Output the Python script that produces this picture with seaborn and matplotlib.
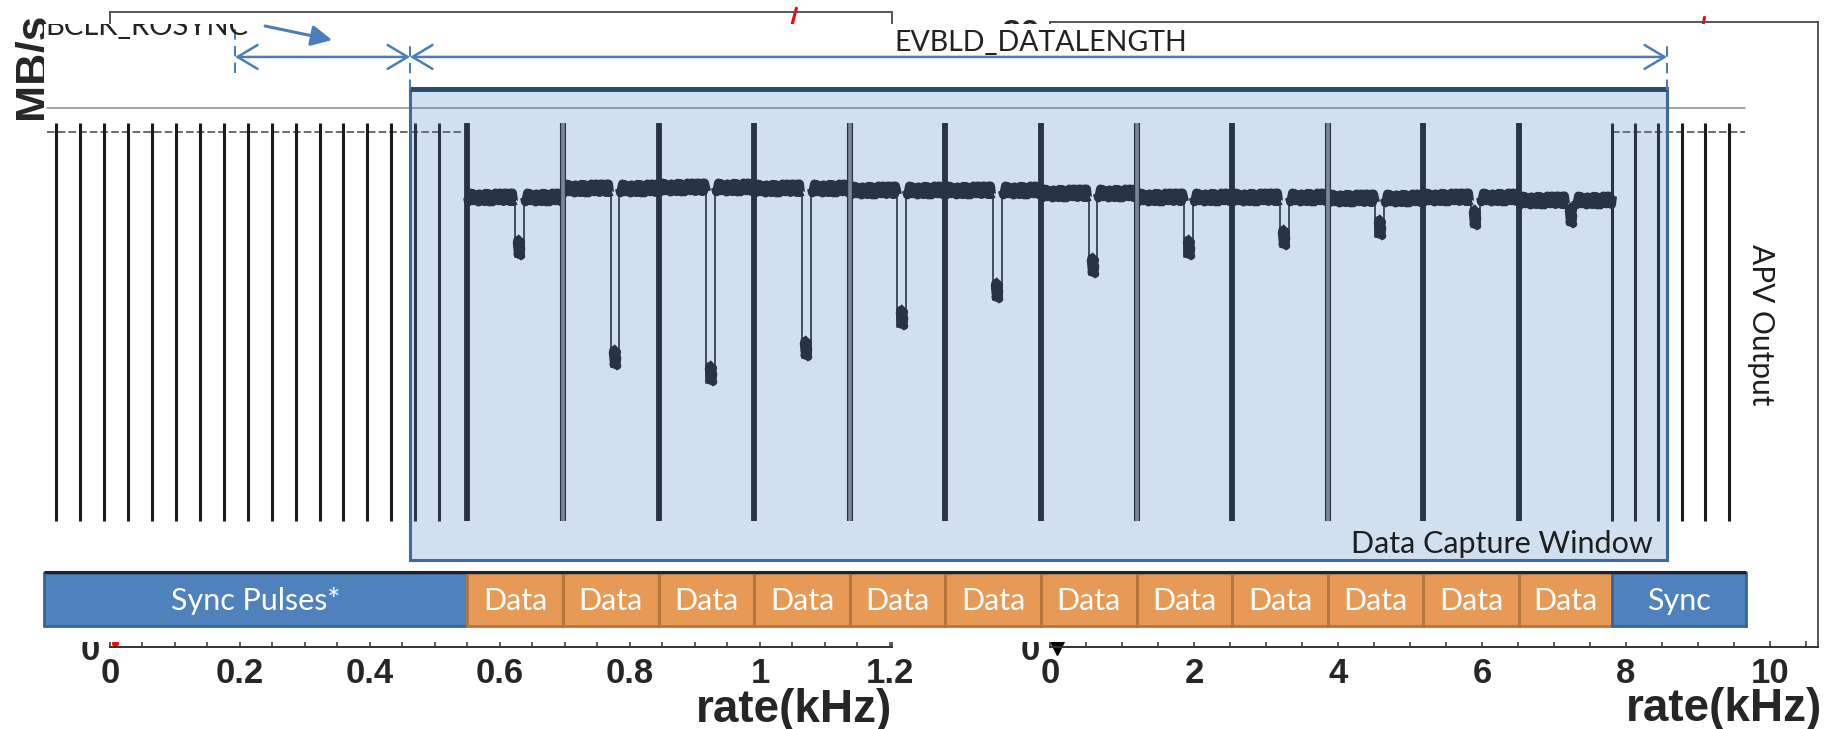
import numpy as np
import pandas as pd
import matplotlib
matplotlib.use('Agg')
import matplotlib.pyplot as plt
import seaborn as sns
from matplotlib.patches import Rectangle
from matplotlib.transforms import Bbox, TransformedBbox
import matplotlib.patheffects as pe
from matplotlib.ticker import MultipleLocator

# ----------------------------- data -----------------------------
left_rate_ticks = [0, 0.2, 0.4, 0.6, 0.8, 1.0, 1.2]
left_rate_labels = ['0', '0.2', '0.4', '0.6', '0.8', '1', '1.2']
right_rate_ticks = [0, 2, 4, 6, 8, 10]
right_rate_labels = ['0', '2', '4', '6', '8', '10']
left_red_rate = [1.044, 1.056]
left_red_mbs = [0.96, 1.006]
right_red_rate = [9.05, 9.09]
right_red_mbs = [19.9, 20.45]

# APV output trace (time in clock ticks, amplitude normalised)
sync_pre = [0.0, 0.99, 1.98, 2.97, 3.96, 4.95, 5.94, 6.93, 7.92, 8.91,
            9.9, 10.89, 11.88, 12.87, 13.86, 14.85, 15.84]
frame_start = [17.0, 20.95, 24.9, 28.85, 32.8, 36.75, 40.7, 44.65,
               48.6, 52.55, 56.5, 60.45]
frame_end = 64.3
sync_post = [64.3, 65.25, 66.2, 67.2, 68.15, 69.15]
frame_level = [0.815, 0.837, 0.840, 0.837, 0.832, 0.832, 0.824, 0.815,
               0.815, 0.812, 0.815, 0.807]
dip_bottom = [0.664, 0.388, 0.346, 0.409, 0.488, 0.555, 0.618, 0.664,
              0.689, 0.714, 0.739, 0.744]
header_style = ['dark', 'light', 'dark', 'dark', 'light', 'dark', 'dark',
                'light', 'dark', 'light', 'dark', 'dark']
baseline_level = 0.977
pulse_top = 1.0
pulse_bottom = 0.0
trace_start, trace_stop = -0.37, 69.79
segments = ['Sync Pulses*'] + ['Data'] * 12 + ['Sync']
bar_edges = [-0.5] + frame_start + [frame_end, 69.83]
syncwin = (7.40, 14.63)          # BCLK_ROSYNC span
capture = (14.63, 66.57)         # EVBLD_DATALENGTH span / capture window

# --------------------------- styling ----------------------------
sns.set_theme(style='ticks')
plt.rcParams['font.family'] = ['Liberation Sans', 'DejaVu Sans']
DIAG_FONT = ['Lato', 'DejaVu Sans']
INK = '#1b1b1b'
BLUE = '#4a7ebb'

W, H, DPI = 1829, 729, 100
fig = plt.figure(figsize=(W / DPI, H / DPI), dpi=DPI)
fig.patch.set_facecolor('white')


def px_rect(x0, y0, x1, y1):
    return [x0 / W, 1 - y1 / H, (x1 - x0) / W, (y1 - y0) / H]


# ------------------------ background plots ----------------------
tick_font = dict(fontsize=25, fontweight='bold')

ax1 = fig.add_axes(px_rect(110, 12, 892, 647))
ax1.set_xlim(0, 1.2031)
ax1.set_ylim(0, 1)
ax2 = fig.add_axes(px_rect(1050, 22, 1818, 647))
ax2.set_xlim(0, 10.667)
ax2.set_ylim(0, 20.3)

for ax, ticks, labels, minor in [(ax1, left_rate_ticks, left_rate_labels, 0.05),
                                 (ax2, right_rate_ticks, right_rate_labels, 0.5)]:
    ax.set_facecolor('white')
    ax.set_xticks(ticks)
    ax.set_xticklabels(labels, **tick_font)
    ax.xaxis.set_minor_locator(MultipleLocator(minor))
    ax.tick_params(axis='both', which='both', direction='in', length=4,
                   width=1.1, color='#333333', pad=7)
    for sp in ax.spines.values():
        sp.set_visible(True)
        sp.set_color('#555555')
        sp.set_linewidth(1.4)
    ax.spines['bottom'].set_color('#333333')

ax1.set_yticks([0])
ax1.set_yticklabels(['0'], **tick_font)
ax2.set_yticks([0, 20])
ax2.set_yticklabels(['0', '20'], **tick_font)

ax1.set_ylabel('MB/s', fontsize=32, fontweight='bold')
ax1.yaxis.set_label_coords(-0.071, 0.916)
ax1.set_xlabel('rate(kHz)', fontsize=33, fontweight='bold', ha='right')
ax1.xaxis.set_label_coords(1.0, -0.064)
ax2.set_xlabel('rate(kHz)', fontsize=33, fontweight='bold', ha='right')
ax2.xaxis.set_label_coords(1.0052, -0.064)

sns.lineplot(x=left_red_rate, y=left_red_mbs, ax=ax1, color='red', lw=2.2,
             clip_on=False)
sns.lineplot(x=right_red_rate, y=right_red_mbs, ax=ax2, color='red', lw=2.2,
             clip_on=False)
ax1.plot([0.008], [0.006], marker='o', color='red', ms=4, clip_on=False)
ax2.plot([0.1], [0], marker='v', color='black', ms=12, clip_on=False)

# --------------------------- diagram ----------------------------
axd = fig.add_axes([0, 0, 1, 1])
axd.set_xlim(-56 / 24.2, (W - 56) / 24.2)
axd.set_ylim((521 - H) / 398, 521 / 398)
axd.axis('off')
axd.patch.set_alpha(0)

# white diagram background
axd.add_patch(Rectangle((-0.5, -0.304), 70.42, 1.553, fc='white', ec='none',
                        zorder=0))

# thin grey reference line
axd.plot([trace_start, trace_stop], [1.0377, 1.0377], color='#8c8c8c', lw=1.1,
         zorder=2)

# idle baseline
base_df = pd.DataFrame({'seg': [0, 0, 1, 1],
                        't': [trace_start, frame_start[0], frame_end, trace_stop],
                        'amp': [baseline_level] * 4})
sns.lineplot(data=base_df, x='t', y='amp', units='seg', estimator=None,
             sort=False, color='#444444', lw=1.1, ls=(0, (5, 2)), ax=axd,
             legend=False, zorder=3)

# sync pulses
axd.vlines(sync_pre + sync_post, pulse_bottom, pulse_top, color=INK, lw=2.2,
           zorder=3)

# data frame levels (noisy band rendered with a sketch effect)
DIP_OFF, DIP_W = 2.15, 0.36
ends = frame_start[1:] + [frame_end]
rows = []
seg = 0
for s, e, lv in zip(frame_start, ends, frame_level):
    c = s + DIP_OFF
    rows += [(seg, s, lv), (seg, c - DIP_W / 2, lv)]
    seg += 1
    rows += [(seg, c + DIP_W / 2, lv), (seg, e, lv)]
    seg += 1
level_df = pd.DataFrame(rows, columns=['seg', 't', 'amp'])
n_before = len(axd.lines)
sns.lineplot(data=level_df, x='t', y='amp', units='seg', estimator=None,
             sort=False, color=INK, lw=6.5, solid_capstyle='butt', ax=axd,
             legend=False, zorder=3)
for ln in axd.lines[n_before:]:
    ln.set_sketch_params(scale=4.5, length=1.6, randomness=3)
sns.lineplot(data=level_df, x='t', y='amp', units='seg', estimator=None,
             sort=False, color=INK, lw=6, solid_capstyle='butt', ax=axd,
             legend=False, zorder=3)

# dips
rows = []
for i, (s, lv, b) in enumerate(zip(frame_start, frame_level, dip_bottom)):
    c = s + DIP_OFF
    rows += [(i, c - DIP_W / 2, lv), (i, c - DIP_W / 2, b),
             (i, c + DIP_W / 2, b), (i, c + DIP_W / 2, lv)]
dip_df = pd.DataFrame(rows, columns=['seg', 't', 'amp'])
sns.lineplot(data=dip_df, x='t', y='amp', units='seg', estimator=None,
             sort=False, color=INK, lw=1.2, ax=axd, legend=False, zorder=3)
centers = [s + DIP_OFF for s in frame_start]
n_before = len(axd.collections)
axd.vlines(centers, dip_bottom, [b + 0.05 for b in dip_bottom], color=INK,
           lw=5.5, zorder=3)
axd.collections[-1].set_sketch_params(scale=2.5, length=1.5, randomness=3)

# frame headers
for s, st in zip(frame_start, header_style):
    if st == 'dark':
        axd.vlines(s, pulse_bottom, pulse_top, color=INK, lw=4.2, zorder=3)
    else:
        axd.vlines(s, pulse_bottom, pulse_top, color='#8a8a8a', lw=2.6,
                   zorder=3,
                   path_effects=[pe.Stroke(linewidth=4.4, foreground=INK),
                                 pe.Normal()])

# data capture window
cx0, cx1 = capture
axd.add_patch(Rectangle((cx0, -0.098), cx1 - cx0, 1.186, fc='#4f81bd',
                        alpha=0.25, ec='none', zorder=4))
axd.add_patch(Rectangle((cx0, -0.098), cx1 - cx0, 1.186, fc='none',
                        ec='#4069a0', lw=2.2, zorder=5))
axd.plot([cx0, cx1], [1.086, 1.086], color='#2b4a72', lw=3.5, zorder=5,
         solid_capstyle='butt')
axd.text(65.99, -0.080, 'Data Capture Window', ha='right', va='baseline',
         fontsize=22, family=DIAG_FONT, color='#1e1e1e', zorder=6)

# dimension lines
for x, y0, y1 in [(syncwin[0], 1.126, 1.251), (cx0, 1.083, 1.2035),
                  (cx1, 1.083, 1.2035)]:
    axd.plot([x, x], [y0, y1], color=BLUE, lw=1.5, ls=(0, (5, 3)), zorder=5)
for a, b in [syncwin, capture]:
    axd.annotate('', xy=(b, 1.166), xytext=(a, 1.166),
                 arrowprops=dict(arrowstyle='<->,head_length=0.72,head_width=0.43',
                                 color=BLUE, lw=1.8, mutation_scale=20,
                                 shrinkA=0, shrinkB=0), zorder=5)
axd.annotate('', xy=(11.41, 1.2085), xytext=(8.64, 1.2437),
             arrowprops=dict(arrowstyle='-|>,head_length=0.7,head_width=0.35',
                             color=BLUE, lw=2.2, mutation_scale=18,
                             shrinkA=0, shrinkB=0), zorder=5)

t = axd.text(-0.45, 1.221, 'BCLK_ROSYNC', ha='left', va='baseline',
             fontsize=21, family=DIAG_FONT, color='#222222', zorder=6)
t.set_clip_box(TransformedBbox(Bbox([[-1.0, -0.5], [20.0, 1.249]]),
                               axd.transData))
t.set_clip_on(True)
axd.text(40.7, 1.181, 'EVBLD_DATALENGTH', ha='center', va='baseline',
         fontsize=20.5, family=DIAG_FONT, color='#222222', zorder=6)
axd.text(70.45, 0.492, 'APV Output', ha='center', va='center', rotation=-90,
         fontsize=21.5, family=DIAG_FONT, color='#1e1e1e', zorder=6)

# segment bar
bar_top, bar_bot = -0.1307, -0.2638
for lab, x0, x1 in zip(segments, bar_edges[:-1], bar_edges[1:]):
    is_sync = lab.startswith('Sync')
    fc = '#4f81bd' if is_sync else '#e79a55'
    ec = '#3b6597' if is_sync else '#b3763d'
    axd.add_patch(Rectangle((x0, bar_bot), x1 - x0, bar_top - bar_bot, fc=fc,
                            ec=ec, lw=2, zorder=6))
    axd.text((x0 + x1) / 2, (bar_top + bar_bot) / 2 - 0.004, lab, color='white',
             ha='center', va='center', fontsize=22, family=DIAG_FONT, zorder=7)
axd.plot([bar_edges[0], bar_edges[-1]], [bar_top + 0.003] * 2, color='#1d2330',
         lw=2.2, zorder=8, solid_capstyle='butt')

fig.savefig('out.png', dpi=DPI, facecolor='white')
